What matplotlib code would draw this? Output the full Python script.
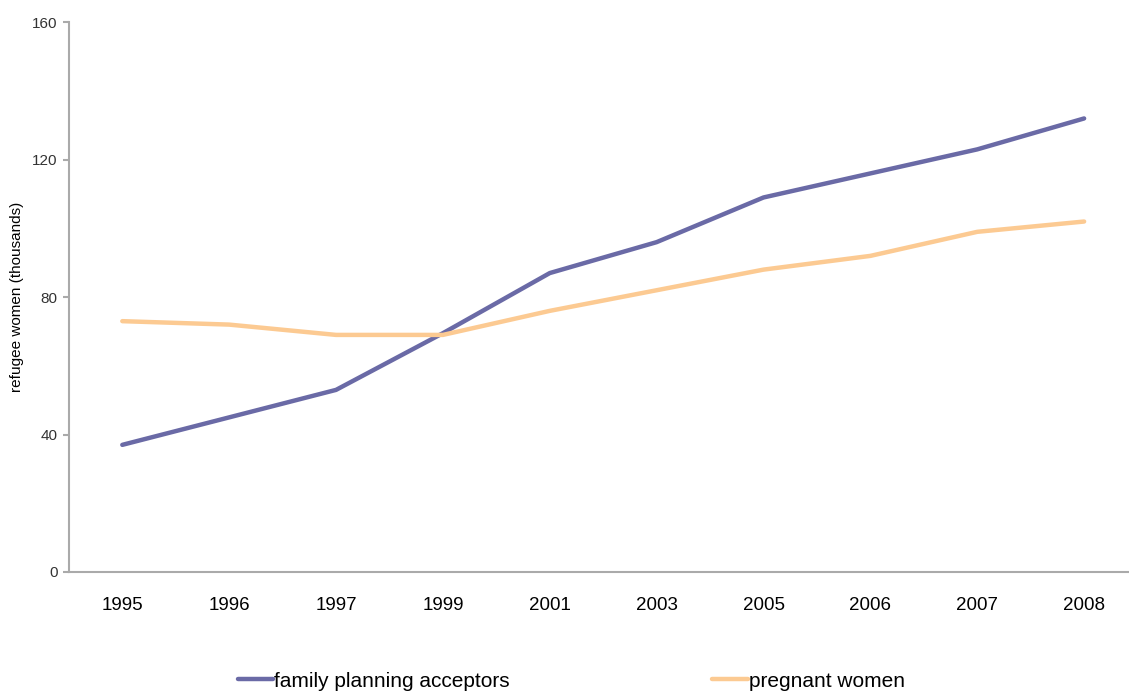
import numpy as np
import matplotlib.pyplot as plt

plt.rcParams['font.family'] = ['Liberation Sans', 'DejaVu Sans']

years = ['1995', '1996', '1997', '1999', '2001', '2003', '2005', '2006', '2007', '2008']
family_planning = [37, 45, 53, 69.5, 87, 96, 109, 116, 123, 132]
pregnant = [73, 72, 69, 69, 76, 82, 88, 92, 99, 102]

fig = plt.figure(figsize=(11.29, 6.95), dpi=100)
ax = fig.add_axes([0.061, 0.177, 0.939, 0.791])

x = np.arange(len(years))
l1, = ax.plot(x, family_planning, color='#6a6aa6', lw=3.2, solid_capstyle='round',
              label='family planning acceptors')
l2, = ax.plot(x, pregnant, color='#fcca92', lw=3.2, solid_capstyle='round',
              label='pregnant women')

ax.set_xlim(-0.5, 9.42)
ax.set_ylim(0, 160)
ax.set_yticks([0, 40, 80, 120, 160])
ax.set_xticks(x)
ax.set_xticklabels(years, fontsize=13.5)
ax.tick_params(axis='x', length=0, pad=18)
ax.tick_params(axis='y', length=4, width=1.5, color='#aaaaaa', labelsize=11,
               labelcolor='#333333', pad=4)
for s in ['top', 'right']:
    ax.spines[s].set_visible(False)
for s in ['left', 'bottom']:
    ax.spines[s].set_color('#aaaaaa')
    ax.spines[s].set_linewidth(1.5)
ax.set_ylabel('refugee women (thousands)', fontsize=11, labelpad=6)

fig.legend(handles=[l1, l2], loc='center', bbox_to_anchor=(0.506, 0.02), ncol=2,
           frameon=False, fontsize=15, handlelength=1.7, handletextpad=0.05,
           columnspacing=9.7)

fig.savefig('out.png', dpi=100)
